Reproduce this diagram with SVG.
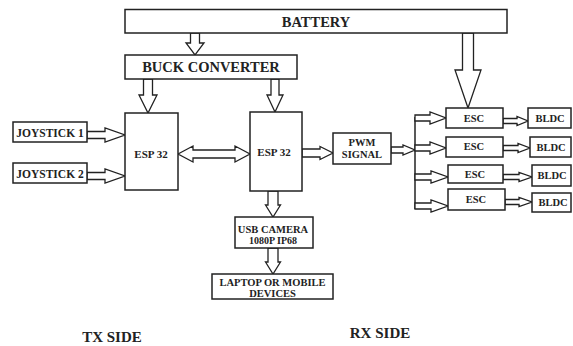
<svg xmlns="http://www.w3.org/2000/svg" width="573" height="346" viewBox="0 0 573 346">
<style>
.box{fill:#fff;stroke:#222;stroke-width:1.5}
.arr{fill:#fff;stroke:#222;stroke-width:1.3;stroke-linejoin:miter}
.line{fill:none;stroke:#222;stroke-width:1.5}
text{font-family:"Liberation Serif","Times New Roman",serif;font-weight:bold;fill:#222;text-anchor:middle}
</style>
<rect width="573" height="346" fill="#fff"/>
<g id="connectors">
<polygon class="arr" points="190.5,33 199.5,33 199.5,43 204,43 195,55 186,43 190.5,43"/>
<polygon class="arr" points="143.5,79 152.5,79 152.5,95 157,95 148,113 139,95 143.5,95"/>
<polygon class="arr" points="271,79 279,79 279,95 283,95 275,112 267,95 271,95"/>
<polygon class="arr" points="462.5,33 473.5,33 473.5,70 481,70 468,108 455,70 462.5,70"/>
<polygon class="arr" points="178,154 193,146 193,150 235,150 235,146 250,154 235,162 235,158 193,158 193,162"/>
<polygon class="arr" points="87,131.5 105,131.5 105,128 125,135 105,142 105,138.5 87,138.5"/>
<polygon class="arr" points="87,172.5 105,172.5 105,169 125,176 105,183 105,179.5 87,179.5"/>
<polygon class="arr" points="302,149 320,149 320,146.5 333,153 320,159.5 320,157 302,157"/>
<polygon class="arr" points="391,147 403,147 403,145 415,150 403,155 403,153 391,153"/>
<line class="line" x1="415" y1="117" x2="415" y2="209"/>
<polygon class="arr" points="415,115 430,115 430,112 446,118 430,124 430,121 415,121"/>
<polygon class="arr" points="415,145 430,145 430,142 446,148 430,154 430,151 415,151"/>
<polygon class="arr" points="415,174 431,174 431,171 448,177 431,183 431,180 415,180"/>
<polygon class="arr" points="415,203 431,203 431,200 448,206 431,212 431,209 415,209"/>
<polygon class="arr" points="503,118.5 517,118.5 517,116.5 528,121 517,125.5 517,123.5 503,123.5"/>
<polygon class="arr" points="503,145.5 518,145.5 518,143.5 530,148 518,152.5 518,150.5 503,150.5"/>
<polygon class="arr" points="503,174.5 519,174.5 519,172.5 532,177 519,181.5 519,179.5 503,179.5"/>
<polygon class="arr" points="505,199.5 519,199.5 519,197.5 532,202 519,206.5 519,204.5 505,204.5"/>
<polygon class="arr" points="268,191 278,191 278,205 280.5,205 273,217 265.5,205 268,205"/>
<polygon class="arr" points="268,248 278,248 278,262 280.5,262 273,274 265.5,262 268,262"/>
</g>
<g id="battery"><rect class="box" x="125" y="9.5" width="382" height="23.5"/><text x="316" y="27" font-size="14.5">BATTERY</text></g>
<g id="buck"><rect class="box" x="125" y="55" width="172" height="24"/><text x="211" y="72" font-size="14.5">BUCK CONVERTER</text></g>
<g id="joystick1"><rect class="box" x="13" y="122" width="74" height="20"/><text x="50" y="136.5" font-size="11.5">JOYSTICK 1</text></g>
<g id="joystick2"><rect class="box" x="13" y="163" width="74" height="20"/><text x="50" y="177.5" font-size="11.5">JOYSTICK 2</text></g>
<g id="esp32tx"><rect class="box" x="125" y="113" width="53" height="77"/><text x="151" y="158" font-size="11">ESP 32</text></g>
<g id="esp32rx"><rect class="box" x="250" y="112" width="52" height="79"/><text x="274" y="156" font-size="11">ESP 32</text></g>
<g id="pwm"><rect class="box" x="333" y="133" width="58" height="31"/><text x="362" y="146" font-size="10.5">PWM</text><text x="362" y="158" font-size="10.5">SIGNAL</text></g>
<g id="esc1"><rect class="box" x="446" y="108" width="57" height="20"/><text x="474" y="122" font-size="10.5">ESC</text></g>
<g id="esc2"><rect class="box" x="446" y="137" width="57" height="20"/><text x="474" y="150" font-size="10.5">ESC</text></g>
<g id="esc3"><rect class="box" x="448" y="165" width="55" height="18"/><text x="475" y="178" font-size="10.5">ESC</text></g>
<g id="esc4"><rect class="box" x="448" y="189" width="57" height="21"/><text x="476" y="203" font-size="10.5">ESC</text></g>
<g id="bldc1"><rect class="box" x="528" y="108" width="43" height="20"/><text x="550" y="122" font-size="10.5">BLDC</text></g>
<g id="bldc2"><rect class="box" x="530" y="137" width="41" height="20"/><text x="551" y="151" font-size="10.5">BLDC</text></g>
<g id="bldc3"><rect class="box" x="532" y="165" width="39" height="21"/><text x="552" y="179" font-size="10.5">BLDC</text></g>
<g id="bldc4"><rect class="box" x="532" y="193" width="39" height="19"/><text x="553" y="206" font-size="10.5">BLDC</text></g>
<g id="camera"><rect class="box" x="235" y="217" width="78" height="31"/><text x="273" y="233" font-size="10.5">USB CAMERA</text><text x="273" y="244" font-size="10">1080P IP68</text></g>
<g id="laptop"><rect class="box" x="212" y="274" width="121" height="25"/><text x="272.5" y="286" font-size="10.5">LAPTOP OR MOBILE</text><text x="272.5" y="297" font-size="10.5">DEVICES</text></g>
<text x="112" y="342" font-size="15">TX SIDE</text>
<text x="380" y="338" font-size="15">RX SIDE</text>
</svg>
